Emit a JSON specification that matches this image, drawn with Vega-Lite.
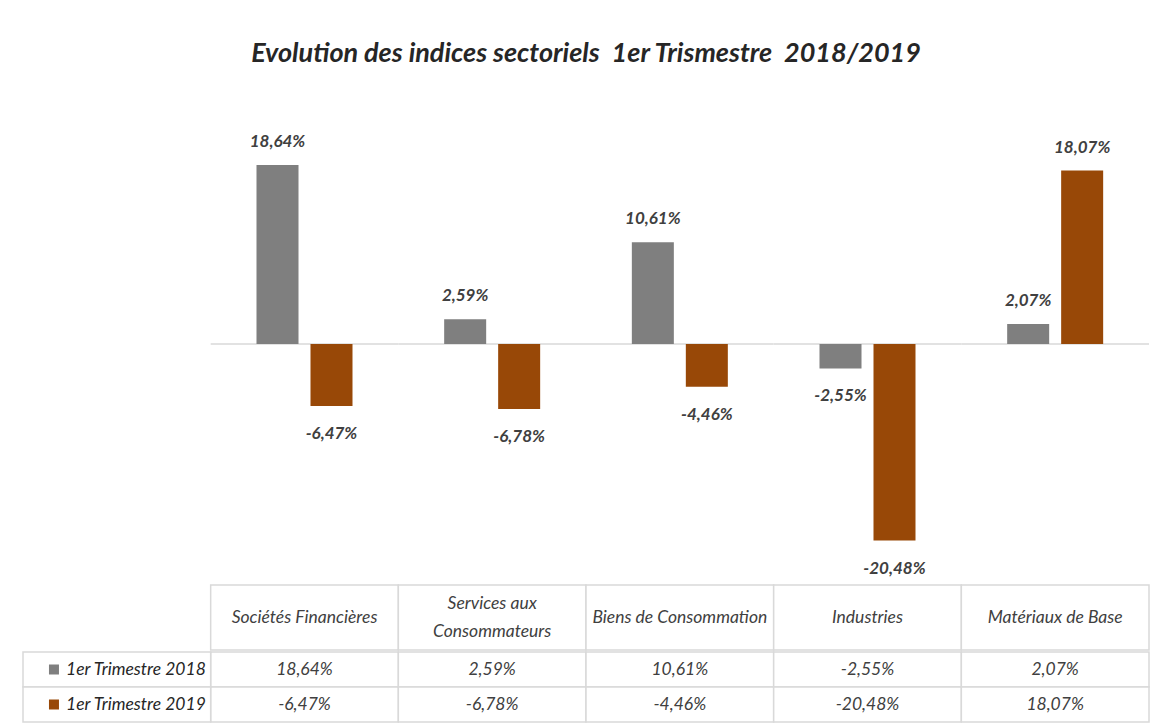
{
  "$schema": "https://vega.github.io/schema/vega-lite/v6.json",
  "background": "white",
  "padding": {"left": 22, "right": 9, "top": 40, "bottom": 10},
  "title": {
    "text": "Evolution des indices sectoriels\u00a0 1er Trismestre\u00a0 2018/2019",
    "font": "Lato", "fontSize": 27, "fontStyle": "italic", "fontWeight": "bold",
    "color": "#262626", "anchor": "middle", "offset": 43
  },
  "config": {
    "locale": {"number": {"decimal": ",", "thousands": " ", "grouping": [3], "currency": ["", " €"], "minus": "-"}},
    "view": {"stroke": null}
  },
  "spacing": 0,
  "datasets": {
    "vals": [
      {"cat": "Sociétés Financières", "serie": "1er Trimestre 2018", "value": 0.1864},
      {"cat": "Sociétés Financières", "serie": "1er Trimestre 2019", "value": -0.0647},
      {"cat": "Services aux Consommateurs", "serie": "1er Trimestre 2018", "value": 0.0259},
      {"cat": "Services aux Consommateurs", "serie": "1er Trimestre 2019", "value": -0.0678},
      {"cat": "Biens de Consommation", "serie": "1er Trimestre 2018", "value": 0.1061},
      {"cat": "Biens de Consommation", "serie": "1er Trimestre 2019", "value": -0.0446},
      {"cat": "Industries", "serie": "1er Trimestre 2018", "value": -0.0255},
      {"cat": "Industries", "serie": "1er Trimestre 2019", "value": -0.2048},
      {"cat": "Matériaux de Base", "serie": "1er Trimestre 2018", "value": 0.0207},
      {"cat": "Matériaux de Base", "serie": "1er Trimestre 2019", "value": 0.1807}
    ],
    "cats": [
      {"cat": "Sociétés Financières", "label": "Sociétés Financières"},
      {"cat": "Services aux Consommateurs", "label": "Services aux\nConsommateurs"},
      {"cat": "Biens de Consommation", "label": "Biens de Consommation"},
      {"cat": "Industries", "label": "Industries"},
      {"cat": "Matériaux de Base", "label": "Matériaux de Base"}
    ],
    "series": [
      {"cat": "label", "serie": "1er Trimestre 2018"},
      {"cat": "label", "serie": "1er Trimestre 2019"}
    ]
  },
  "vconcat": [
    {
      "width": 1126,
      "height": 473,
      "encoding": {
        "x": {
          "field": "cat", "type": "nominal",
          "scale": {"domain": ["label", "Sociétés Financières", "Services aux Consommateurs", "Biens de Consommation", "Industries", "Matériaux de Base"], "paddingInner": 0, "paddingOuter": 0},
          "axis": null
        }
      },
      "layer": [
        {
          "data": {"name": "cats"},
          "mark": {"type": "bar", "fill": "transparent", "stroke": "#d9d9d9", "strokeWidth": 1.5},
          "encoding": {
            "y": {"datum": 0, "type": "quantitative", "scale": {"domain": [-0.25, 0.2427], "nice": false, "zero": false}, "axis": null},
            "y2": {"datum": 0}
          }
        },
        {
          "data": {"name": "vals"},
          "mark": {"type": "bar"},
          "encoding": {
            "xOffset": {"field": "serie", "type": "nominal", "scale": {"paddingInner": 0.222, "paddingOuter": 0.849}},
            "y": {"field": "value", "type": "quantitative"},
            "color": {"field": "serie", "type": "nominal", "scale": {"domain": ["1er Trimestre 2018", "1er Trimestre 2019"], "range": ["#7f7f7f", "#984807"]}, "legend": null}
          }
        },
        {
          "data": {"name": "vals"},
          "transform": [{"filter": "datum.value >= 0"}],
          "mark": {"type": "text", "font": "Lato", "fontSize": 17, "fontStyle": "italic", "fontWeight": "bold", "color": "#404040", "baseline": "bottom", "dy": -14},
          "encoding": {
            "xOffset": {"field": "serie", "type": "nominal", "scale": {"paddingInner": 0.222, "paddingOuter": 0.849}},
            "y": {"field": "value", "type": "quantitative"},
            "text": {"field": "value", "type": "quantitative", "format": ".2%"}
          }
        },
        {
          "data": {"name": "vals"},
          "transform": [{"filter": "datum.value < 0"}],
          "mark": {"type": "text", "font": "Lato", "fontSize": 17, "fontStyle": "italic", "fontWeight": "bold", "color": "#404040", "baseline": "top", "dy": 20},
          "encoding": {
            "xOffset": {"field": "serie", "type": "nominal", "scale": {"paddingInner": 0.222, "paddingOuter": 0.849}},
            "y": {"field": "value", "type": "quantitative"},
            "text": {"field": "value", "type": "quantitative", "format": ".2%"}
          }
        }
      ]
    },
    {
      "width": 1126,
      "height": 65,
      "data": {"name": "cats"},
      "encoding": {
        "x": {
          "field": "cat", "type": "nominal",
          "scale": {"domain": ["label", "Sociétés Financières", "Services aux Consommateurs", "Biens de Consommation", "Industries", "Matériaux de Base"], "paddingInner": 0, "paddingOuter": 0},
          "axis": null
        }
      },
      "layer": [
        {"mark": {"type": "bar", "fill": "white", "stroke": "#d9d9d9", "strokeWidth": 1.5}},
        {
          "transform": [{"filter": "!test(/\\n/, datum.label)"}],
          "mark": {"type": "text", "font": "Lato", "fontSize": 17.5, "fontStyle": "italic", "color": "#404040"},
          "encoding": {"text": {"field": "label"}}
        },
        {
          "transform": [{"filter": "test(/\\n/, datum.label)"}],
          "mark": {"type": "text", "font": "Lato", "fontSize": 17.5, "fontStyle": "italic", "color": "#404040", "lineBreak": "\n", "lineHeight": 28, "dy": -14},
          "encoding": {"text": {"field": "label"}}
        }
      ]
    },
    {
      "width": 1126,
      "height": 70,
      "encoding": {
        "x": {
          "field": "cat", "type": "nominal",
          "scale": {"domain": ["label", "Sociétés Financières", "Services aux Consommateurs", "Biens de Consommation", "Industries", "Matériaux de Base"], "paddingInner": 0, "paddingOuter": 0},
          "axis": null
        },
        "y": {
          "field": "serie", "type": "nominal",
          "scale": {"domain": ["1er Trimestre 2018", "1er Trimestre 2019"], "paddingInner": 0, "paddingOuter": 0},
          "axis": null
        }
      },
      "layer": [
        {"data": {"name": "vals"}, "mark": {"type": "bar", "fill": "white", "stroke": "#d9d9d9", "strokeWidth": 1.5}},
        {"data": {"name": "series"}, "mark": {"type": "bar", "fill": "white", "stroke": "#d9d9d9", "strokeWidth": 1.5}},
        {
          "data": {"name": "vals"},
          "mark": {"type": "text", "font": "Lato", "fontSize": 17.5, "fontStyle": "italic", "color": "#404040"},
          "encoding": {"text": {"field": "value", "type": "quantitative", "format": ".2%"}}
        },
        {
          "data": {"name": "series"},
          "mark": {"type": "point", "shape": "square", "filled": true, "size": 100, "opacity": 1},
          "encoding": {
            "x": {"field": "cat", "type": "nominal", "bandPosition": 0.165},
            "color": {"field": "serie", "type": "nominal", "scale": {"domain": ["1er Trimestre 2018", "1er Trimestre 2019"], "range": ["#7f7f7f", "#984807"]}, "legend": null}
          }
        },
        {
          "data": {"name": "series"},
          "mark": {"type": "text", "font": "Lato", "fontSize": 17.5, "fontStyle": "italic", "color": "#262626", "align": "left"},
          "encoding": {
            "x": {"field": "cat", "type": "nominal", "bandPosition": 0.229},
            "text": {"field": "serie"}
          }
        }
      ]
    }
  ]
}
